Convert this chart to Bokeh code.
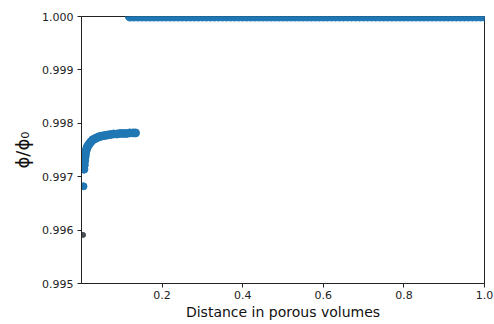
from bokeh.plotting import figure
from bokeh.models import FixedTicker, Range1d, NumeralTickFormatter
from bokeh.embed import file_html
from bokeh.resources import INLINE

# Early-time points (curve rising toward ~0.9978)
x_curve = [0.006, 0.007, 0.008, 0.009, 0.010, 0.012, 0.014, 0.017, 0.020, 0.024, 0.028,
           0.033, 0.038, 0.044, 0.050, 0.057, 0.064, 0.072, 0.080, 0.088, 0.096,
           0.104, 0.112, 0.120, 0.128, 0.134]
y_curve = [0.99714, 0.99722, 0.99730, 0.99737, 0.99743, 0.99750, 0.99755, 0.99759, 0.99762,
           0.99766, 0.99769, 0.99771, 0.99773, 0.99775, 0.99776, 0.99777, 0.99778, 0.99779,
           0.99780, 0.99780, 0.99781, 0.99781, 0.99781, 0.99782, 0.99782, 0.99782]

# Second point and outlier first point (dark)
x_second = [0.005]
y_second = [0.99682]
x_first = [0.004]
y_first = [0.99591]

# Late points sitting at 1.0
x_top = [0.12, 0.13, 0.14, 0.15, 0.16, 0.17, 0.18, 0.19, 0.20, 0.21, 0.22, 0.23, 0.24,
         0.25, 0.26, 0.27, 0.28, 0.29, 0.30, 0.31, 0.32, 0.33, 0.34, 0.35, 0.36, 0.37,
         0.38, 0.39, 0.40, 0.41, 0.42, 0.43, 0.44, 0.45, 0.46, 0.47, 0.48, 0.49, 0.50,
         0.51, 0.52, 0.53, 0.54, 0.55, 0.56, 0.57, 0.58, 0.59, 0.60, 0.61, 0.62, 0.63,
         0.64, 0.65, 0.66, 0.67, 0.68, 0.69, 0.70, 0.71, 0.72, 0.73, 0.74, 0.75, 0.76,
         0.77, 0.78, 0.79, 0.80, 0.81, 0.82, 0.83, 0.84, 0.85, 0.86, 0.87, 0.88, 0.89,
         0.90, 0.91, 0.92, 0.93, 0.94, 0.95, 0.96, 0.97, 0.98, 0.99, 1.00]
y_top = [1.0] * len(x_top)

x_ticks = [0.2, 0.4, 0.6, 0.8, 1.0]
y_ticks = [0.995, 0.996, 0.997, 0.998, 0.999, 1.000]

FONT = "DejaVu Sans"
BLUE = "#1f77b4"

p = figure(width=494, height=324, output_backend="svg", toolbar_location=None,
           x_range=Range1d(0, 1), y_range=Range1d(0.995, 1.0),
           min_border_left=81, min_border_right=10, min_border_top=16, min_border_bottom=41)

p.scatter(x_top, y_top, size=9, color=BLUE)
p.scatter(x_curve, y_curve, size=8, color=BLUE)
p.scatter(x_second, y_second, size=7, color=BLUE)
p.scatter(x_first, y_first, size=5, color="#4a4f55")

p.xgrid.visible = False
p.ygrid.visible = False
p.outline_line_color = "#222222"
p.outline_line_width = 1
p.outline_line_alpha = 1.0

p.xaxis.ticker = FixedTicker(ticks=x_ticks)
p.yaxis.ticker = FixedTicker(ticks=y_ticks)
p.yaxis.formatter = NumeralTickFormatter(format="0.000")
p.xaxis.formatter = NumeralTickFormatter(format="0.0")

for ax in (p.xaxis[0], p.yaxis[0]):
    ax.minor_tick_line_color = None
    ax.major_tick_out = 4
    ax.major_tick_in = 0
    ax.axis_line_color = "#222222"
    ax.major_tick_line_color = "#222222"
    ax.major_label_text_font = FONT
    ax.major_label_text_font_size = "11px"
    ax.major_label_text_color = "#222222"
    ax.axis_label_text_font = FONT
    ax.axis_label_text_font_style = "normal"
    ax.axis_label_text_color = "#111111"

p.xaxis.axis_label = "Distance in porous volumes"
p.xaxis.axis_label_text_font_size = "14px"
p.xaxis.axis_label_standoff = 2
p.xaxis.major_label_standoff = 3

p.yaxis.axis_label = "ϕ/ϕ₀"
p.yaxis.axis_label_text_font_size = "18px"
p.yaxis.axis_label_standoff = 6
p.yaxis.major_label_standoff = 4

open("out.html", "w").write(file_html(p, INLINE))
